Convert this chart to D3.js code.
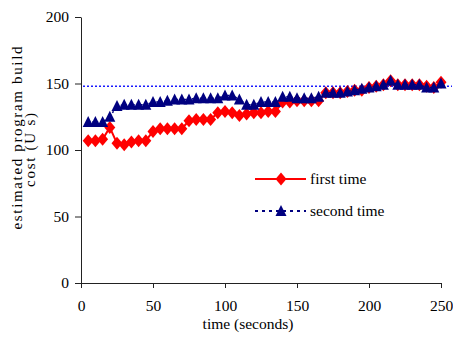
<!DOCTYPE html>
<html>
<head>
<meta charset="utf-8">
<script src="https://cdn.jsdelivr.net/npm/d3@7"></script>
<style>
  body { margin: 0; background: #fff; }
  svg, svg text { font-family: "Liberation Serif", "Times New Roman", Times, serif; }
</style>
</head>
<body>
<svg id="chart" width="453" height="352"></svg>
<script>
var times = [5, 10, 15, 20, 25, 30, 35, 40, 45, 50, 55, 60, 65, 70, 75, 80, 85, 90, 95, 100,
  105, 110, 115, 120, 125, 130, 135, 140, 145, 150, 155, 160, 165, 170, 175, 180, 185, 190, 195, 200,
  205, 210, 215, 220, 225, 230, 235, 240, 245, 250];

var firstTime = [107, 107, 108, 117, 105, 104, 106, 107, 107, 114, 116, 116, 116, 116, 122, 123, 123, 123, 128, 129,
  128, 126, 127, 128, 128, 129, 129, 136, 136, 137, 137, 137, 137, 143, 143, 143, 144, 145, 145, 147,
  148, 149, 152, 149, 149, 149, 149, 148, 147, 151];

var secondTime = [121, 121, 121, 125, 133, 134, 134, 134, 134, 136, 136, 137, 138, 138, 138, 139, 139, 139, 139, 141,
  141, 138, 134, 134, 136, 136, 136, 140, 140, 139, 139, 139, 140, 143, 143, 143, 144, 145, 146, 147,
  148, 149, 152, 149, 149, 149, 149, 147, 147, 150];

var referenceCost = 148;
var xTicks = [0, 50, 100, 150, 200, 250];
var yTicks = [0, 50, 100, 150, 200];
var seriesNames = ["first time", "second time"];

var width = 453, height = 352;
var fontFamily = "'Liberation Serif', 'Times New Roman', Times, serif";
var svg = d3.select("#chart");

// scales
var xScale = d3.scaleLinear().domain([0, 250]).range([81, 441]);
var yScale = d3.scaleLinear().domain([0, 200]).range([283, 17]);

// reference line
svg.append("line")
    .attr("x1", xScale(0) + 2)
    .attr("x2", width - 1)
    .attr("y1", yScale(referenceCost))
    .attr("y2", yScale(referenceCost))
    .attr("stroke", "#1a1aff")
    .attr("stroke-width", 1.5)
    .attr("stroke-dasharray", "2,2");

// axes
var yAxis = svg.append("g")
    .attr("transform", "translate(81,0)")
    .call(d3.axisLeft(yScale).tickValues(yTicks).tickSize(6).tickSizeOuter(0).tickPadding(6));

var xAxis = svg.append("g")
    .attr("transform", "translate(0,283)")
    .call(d3.axisBottom(xScale).tickValues(xTicks).tickSize(5).tickSizeOuter(0).tickPadding(12));

[xAxis, yAxis].forEach(function (g) {
  g.attr("font-family", fontFamily).attr("font-size", 15.5);
  g.selectAll("path, line").attr("stroke", "#222").attr("stroke-width", 1);
  g.selectAll("text").attr("fill", "#000");
});

// axis titles
svg.append("text")
    .text("time (seconds)")
    .attr("x", 248)
    .attr("y", 329)
    .attr("text-anchor", "middle")
    .attr("font-family", fontFamily)
    .attr("font-size", 15.5);

svg.append("text")
    .text("estimated program build")
    .attr("transform", "translate(22,138) rotate(-90)")
    .attr("text-anchor", "middle")
    .attr("textLength", 183)
    .attr("lengthAdjust", "spacing")
    .attr("font-family", fontFamily)
    .attr("font-size", 15);

svg.append("text")
    .text("cost (U s)")
    .attr("transform", "translate(35,150) rotate(-90)")
    .attr("text-anchor", "middle")
    .attr("textLength", 74)
    .attr("lengthAdjust", "spacing")
    .attr("font-family", fontFamily)
    .attr("font-size", 15);

// series
var diamond = "M0,-6.5L5.5,0L0,6.5L-5.5,0Z";
var triangle = "M0,-6L5.5,5L-5.5,5Z";

var firstData = times.map((t, i) => ({ t: t, v: firstTime[i] }));
var secondData = times.map((t, i) => ({ t: t, v: secondTime[i] }));

var line = d3.line().x(d => xScale(d.t)).y(d => yScale(d.v));

svg.append("path")
    .datum(firstData)
    .attr("d", line)
    .attr("fill", "none")
    .attr("stroke", "#ff0000")
    .attr("stroke-width", 2);

svg.append("g")
  .selectAll("path")
  .data(firstData)
  .enter()
  .append("path")
    .attr("d", diamond)
    .attr("transform", d => `translate(${xScale(d.t)},${yScale(d.v)})`)
    .attr("fill", "#ff0000");

svg.append("path")
    .datum(secondData)
    .attr("d", line)
    .attr("fill", "none")
    .attr("stroke", "#000080")
    .attr("stroke-width", 1.5)
    .attr("stroke-dasharray", "2,2");

svg.append("g")
  .selectAll("path")
  .data(secondData)
  .enter()
  .append("path")
    .attr("d", triangle)
    .attr("transform", d => `translate(${xScale(d.t)},${yScale(d.v)})`)
    .attr("fill", "#000080");

// legend
var legend = svg.append("g")
    .attr("font-family", fontFamily)
    .attr("font-size", 15.5);
var legendRows = [
  { name: seriesNames[0], color: "#ff0000", dash: null, width: 2, marker: diamond, y: 179 },
  { name: seriesNames[1], color: "#000080", dash: "3,4", width: 2, marker: triangle, y: 211 }
];

legendRows.forEach(function (r) {
  legend.append("line")
      .attr("x1", 255).attr("x2", 306)
      .attr("y1", r.y).attr("y2", r.y)
      .attr("stroke", r.color)
      .attr("stroke-width", r.width)
      .attr("stroke-dasharray", r.dash);
  legend.append("path")
      .attr("d", r.marker)
      .attr("transform", `translate(281,${r.y})`)
      .attr("fill", r.color);
  legend.append("text")
      .text(r.name)
      .attr("x", 310)
      .attr("y", r.y + 5);
});
</script>
</body>
</html>
